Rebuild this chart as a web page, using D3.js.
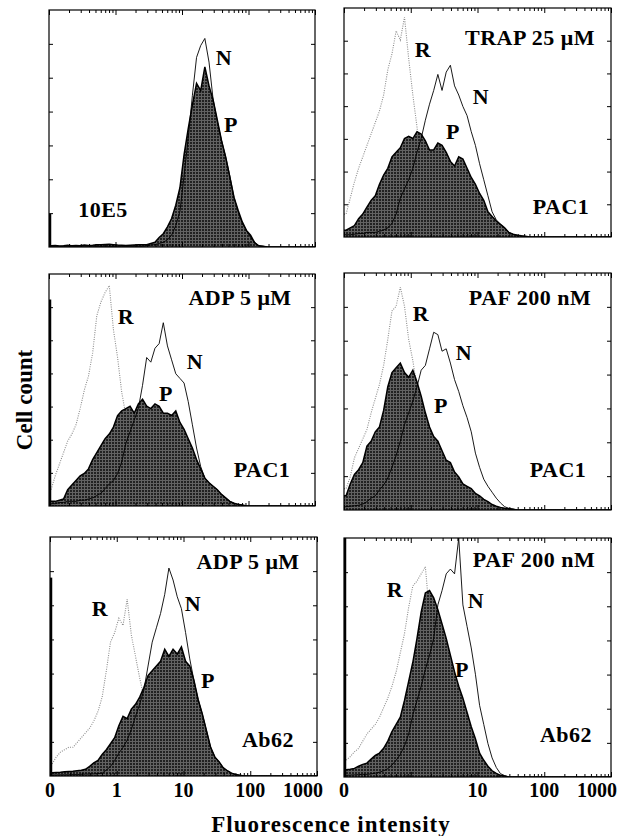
<!DOCTYPE html>
<html><head><meta charset="utf-8">
<script src="https://cdn.jsdelivr.net/npm/d3@7"></script>
<style>
body{margin:0;background:#fff}
svg text{font-family:"Liberation Serif","Times New Roman",serif;font-weight:bold;fill:#000}
</style></head><body>
<svg id="chart" width="617" height="836"></svg>
<script>
// ================= DATA =================
// x axis: fluorescence intensity, log scale 0.1 ("0") .. 1000; histogram bins of 1/16 decade
const axisTickValues = [0.1, 1, 10, 100, 1000];
const axisTickLabelsLeft = ["0", "1", "10", "100", "1000"];
const axisTickLabelsRight = ["0", "", "10", "100", "1000"];
const binsPerDecade = 16;
const panelTitles = ["10E5", "TRAP 25 μM", "ADP 5 μM", "PAF 200 nM", "ADP 5 μM", "PAF 200 nM"];
const panelAntibodies = ["", "PAC1", "PAC1", "PAC1", "Ab62", "Ab62"];
// counts piled in the first channel (P histogram), % of full scale
const zeroChannelP = [14, 0, 89, 0, 83, 100];

// cell counts, % of full scale, per bin starting at 0.1
const p1N = [0.3,0.3,0.3,0.3,0.3,0.3,0.3,0.3,0.3,0.3,0.3,0.3,0.3,0.3,0.3,0.3,0.3,0.3,0.3,0.3,0.3,0.3,0.3,
  0.5,0.8,1,1.5,2,3,5,9,15,30,46,64,80,85,88,78,62,53,45,38,30,21,15,10,7,4,2,0.5,0.3];
const p1P = [0.5,0.6,0.4,0.5,0.7,0.5,0.6,0.5,0.8,0.6,0.7,0.9,1,1.1,1.2,1,0.8,0.7,0.6,0.7,0.8,0.9,1,
  1,1.5,2,4,5.6,8.5,12,17.6,25,39,50,60,69,66,76,68,62,53.5,45,38,29.6,21,15.5,10.6,7,5,1.7,0.5,0.3];

const p2R = [10,17,24,30,35,40,45,50,55,62,73,80,90,86,96,78,62,48,31,20,11,7,4,1.5,0.5];
const p2N = [1,1,1.2,1.5,1.5,2,2,2,2.5,3, 4,6,10,17,21,25,30,37,43,51, 58,64,71,64,72,75,66,62,57,53,
  46,40,32,25,18,11,7.5,5.5,4,2, 1.2,0.8,0.5];
const p2P = [3,4,5,8,10,13,16,18,23,27, 30,35,37,39,43,44,43,46,45,42, 38,38,41,40,37,33,31,35,34,30,
  26,23,19,16,11,9,7,5.5,4,2, 1.2,0.8,0.5,0.3];

const p3R = [7,13,18,23,28,31,35,42,50,56,66,82,88,92,95,76,64,49,39,27,13,7,3,1,0.4];
const p3N = [1,1,1.5,1.5,2,2,2,2.5,2.5,3, 3.5,4.5,5.5,7.5,9.5,11,14,19,27,32, 37,42,52,64,62,68,70,79,69,63,
  57,55,53,45,35,25,17,12,10,8.5, 7,5,3.5,2,1.2,0.7,0.4];
const p3P = [2,2,2.5,3,7,9,11,13,14,16, 20,23,26,29,31,34,39,41,42,43, 40,44,46,43,42,44,43,40,40,39,
  41,36,33,29,25,20,16,12,10,8.5, 7,5,3.5,2,1.2,0.7,0.4];

const p4R = [9,14,22,26,30,34,41,47,53,61,72,84,86,94,86,72,63,52,40,30,20,12,5,1.5,0.5];
const p4N = [1.4,1.6,1.8,2,2.5,3.5,5,6,8.5,10.5, 13.5,18,23,29,36,41,46,52,59,61, 68,75,74,67,68,62,55,50,44,39,
  33,24,18,13,10,7.5,5,3,1.4,0.7,0.4];
const p4P = [6,11,15,17,20,27,29,33,35,42, 52,58,60,62,58,56,59,54,48,41, 35,31,29,25,21,20,16,14,11,10,
  9,7,6,4.5,3.5,2.3,1.6,1.1,0.7,0.5,0.3];

const p5R = [5,8,10,11,12,12,14,16,18,20,23,27,33,44,56,60,66,63,74,59,50,41,33,20,9,3,1,0.4];
const p5N = [0.4,0.4,0.5,0.5,0.5,0.6,0.6,0.7,0.8,0.8, 0.9,1,1.2,2.5,4,6.5,9.5,12,15,19.5, 25,30,36,46,56,62,68,76,87,82,
  75,70,60,49,40,32,26,19,12,8, 6,3.5,2.2,1.2,0.6,0.3];
const p5P = [1.4,1.5,1.6,1.8,1.9,2,2.2,2.4,2.8,4, 5.5,6.5,9,11,13.5,16,21,25,24,28, 30,33,37,42,44,46,48,53,50,53,
  51,54,48,46,40,32,26,19,12,8, 6,3.5,2.2,1.2,0.6,0.3];

const p6R = [7,8.5,10.5,12,15,18,20,22,25,29,33,38,44,52,60,71,80,82,85,88,68,47,33,18,7,2,0.5];
const p6N = [0.7,0.8,0.9,1,1.1,1.1,1.3,1.6,2,2.6, 3.5,5,7,9.5,13,18,26,32,38,45, 51,58,72,78,85,87,85,100,72,63,
  54,43,30,22,14,8,4,1.4,0.6];
const p6P = [3,3.2,3.6,4.5,5.3,5.8,7.5,9,10,12, 15,19,22,25,32,40,48,58,69,77, 78,75,70,64,58,51,44,38,33,27,
  21,16,10,7,4.5,2.6,1.5,0.7,0.4];

// ================= LAYOUT =================
const panels = [
  {box:[49,315,10,247],  R:null, N:p1N, P:p1P, zero:zeroChannelP[0], title:panelTitles[0], ab:panelAntibodies[0],
   lab:{title:[103,217], N:[224,65], P:[231,132]}},
  {box:[344,611,8,237],  R:p2R, N:p2N, P:p2P, zero:zeroChannelP[1], title:panelTitles[1], ab:panelAntibodies[1],
   lab:{title:[530,45], R:[423,57], N:[481,104], P:[453,139], ab:[561,214]}},
  {box:[49,315,274,506], R:p3R, N:p3N, P:p3P, zero:zeroChannelP[2], title:panelTitles[2], ab:panelAntibodies[2],
   lab:{title:[240,305], R:[126,324], N:[195,369], P:[166,401], ab:[262,477]}},
  {box:[344,611,273,510], R:p4R, N:p4N, P:p4P, zero:zeroChannelP[3], title:panelTitles[3], ab:panelAntibodies[3],
   lab:{title:[530,305], R:[421,321], N:[464,360], P:[441,413], ab:[558,477]}},
  {box:[50,317,537,776], R:p5R, N:p5N, P:p5P, zero:zeroChannelP[4], title:panelTitles[4], ab:panelAntibodies[4],
   lab:{title:[248,569], R:[100,616], N:[193,611], P:[208,688], ab:[268,747]}, ticks:axisTickLabelsLeft},
  {box:[344,611,538,777], R:p6R, N:p6N, P:p6P, zero:zeroChannelP[5], title:panelTitles[5], ab:panelAntibodies[5],
   lab:{title:[534,567], R:[395,597], N:[476,608], P:[462,677], ab:[566,742]}, ticks:axisTickLabelsRight}
];

const svg = d3.select("#chart");
const defs = svg.append("defs");
const pat = defs.append("pattern").attr("id","halftone").attr("width",3).attr("height",3)
  .attr("patternUnits","userSpaceOnUse");
pat.append("rect").attr("width",3).attr("height",3).attr("fill","#222");
pat.append("rect").attr("width",3).attr("height",1).attr("fill","#626262");
pat.append("rect").attr("width",1).attr("height",3).attr("fill","#626262");

const minorTicks = [];
for (let d = 0.1; d < 1000; d *= 10) for (let k = 2; k <= 9; k++) minorTicks.push(+(d*k).toPrecision(3));

function binCenter(i){ return Math.pow(10, -1 + (i + 0.5) / binsPerDecade); }
function seriesPoints(vals){
  const pts = [[0.1, vals[0]]];
  vals.forEach((v,i) => pts.push([binCenter(i), v]));
  pts.push([binCenter(vals.length), 0]);
  pts.push([1000, 0]);
  return pts;
}

panels.forEach((p, idx) => {
  const [L, Rr, T, B] = p.box;
  const x = d3.scaleLog().domain([0.1, 1000]).range([L, Rr]);
  const y = d3.scaleLinear().domain([0, 100]).range([B, T]);
  const g = svg.append("g");
  const clipId = "clip" + idx;
  defs.append("clipPath").attr("id", clipId).append("rect")
    .attr("x", L).attr("y", T).attr("width", Rr - L).attr("height", B - T);
  const dg = g.append("g").attr("clip-path", `url(#${clipId})`);
  const line = d3.line().x(d => x(d[0])).y(d => y(d[1]));
  const area = d3.area().x(d => x(d[0])).y0(y(0)).y1(d => y(d[1]));

  if (p.R) dg.append("path").attr("d", line(seriesPoints(p.R))).attr("fill","none")
    .attr("stroke","#8c8c8c").attr("stroke-width",1.1).attr("stroke-dasharray","1,1.3");
  dg.append("path").attr("d", area(seriesPoints(p.P))).attr("fill","url(#halftone)");
  dg.append("path").attr("d", line(seriesPoints(p.P))).attr("fill","none")
    .attr("stroke","#000").attr("stroke-width",1.5);
  dg.append("path").attr("d", line(seriesPoints(p.N))).attr("fill","none")
    .attr("stroke","#000").attr("stroke-width",0.9);
  if (p.zero > 0) dg.append("line").attr("x1", x(0.1)+1).attr("x2", x(0.1)+1)
    .attr("y1", y(0)).attr("y2", y(p.zero)).attr("stroke","#000").attr("stroke-width",2.5);

  // frame
  g.append("rect").attr("x",L).attr("y",T).attr("width",Rr-L).attr("height",B-T)
    .attr("fill","none").attr("stroke","#000").attr("stroke-width",1.2);

  // ticks
  const axG = g.append("g").attr("class","ticks");
  const addAx = (gen, tr) => {
    const a = axG.append("g").attr("transform", tr).call(gen);
    a.select(".domain").remove();
    a.selectAll("line").attr("stroke","#000").attr("stroke-width",1);
  };
  addAx(d3.axisTop(x).tickValues(minorTicks).tickSize(-3).tickFormat(""), `translate(0,${T})`);
  addAx(d3.axisTop(x).tickValues(axisTickValues).tickSize(-5).tickFormat(""), `translate(0,${T})`);
  addAx(d3.axisBottom(x).tickValues(minorTicks).tickSize(-3).tickFormat(""), `translate(0,${B})`);
  addAx(d3.axisBottom(x).tickValues(axisTickValues).tickSize(-5).tickFormat(""), `translate(0,${B})`);
  const yt = d3.range(1, 7).map(k => k * 100 / 7);
  addAx(d3.axisLeft(y).tickValues(yt).tickSize(-4).tickFormat(""), `translate(${L},0)`);
  addAx(d3.axisRight(y).tickValues(yt).tickSize(-4).tickFormat(""), `translate(${Rr},0)`);

  // tick labels (bottom row)
  if (p.ticks) {
    axisTickValues.forEach((v, k) => {
      if (!p.ticks[k]) return;
      const last = k === axisTickValues.length - 1;
      g.append("text").attr("x", last ? x(v) + 6 : x(v)).attr("y", 797)
        .attr("text-anchor", last ? "end" : "middle").attr("font-size", 20).text(p.ticks[k]);
    });
  }

  // labels
  const lab = (txt, pos) => g.append("text").attr("x", pos[0]).attr("y", pos[1])
    .attr("text-anchor","middle").attr("font-size",22).attr("letter-spacing","0.5px").text(txt);
  lab(p.title, p.lab.title);
  if (p.lab.R) lab("R", p.lab.R);
  lab("N", p.lab.N);
  lab("P", p.lab.P);
  if (p.ab) lab(p.ab, p.lab.ab);
});

svg.append("text").attr("transform","translate(32,400) rotate(-90)").attr("text-anchor","middle")
  .attr("font-size",23).text("Cell count");
svg.append("text").attr("x",331).attr("y",832).attr("text-anchor","middle")
  .attr("font-size",23).attr("letter-spacing","1px").text("Fluorescence intensity");
</script>
</body></html>
